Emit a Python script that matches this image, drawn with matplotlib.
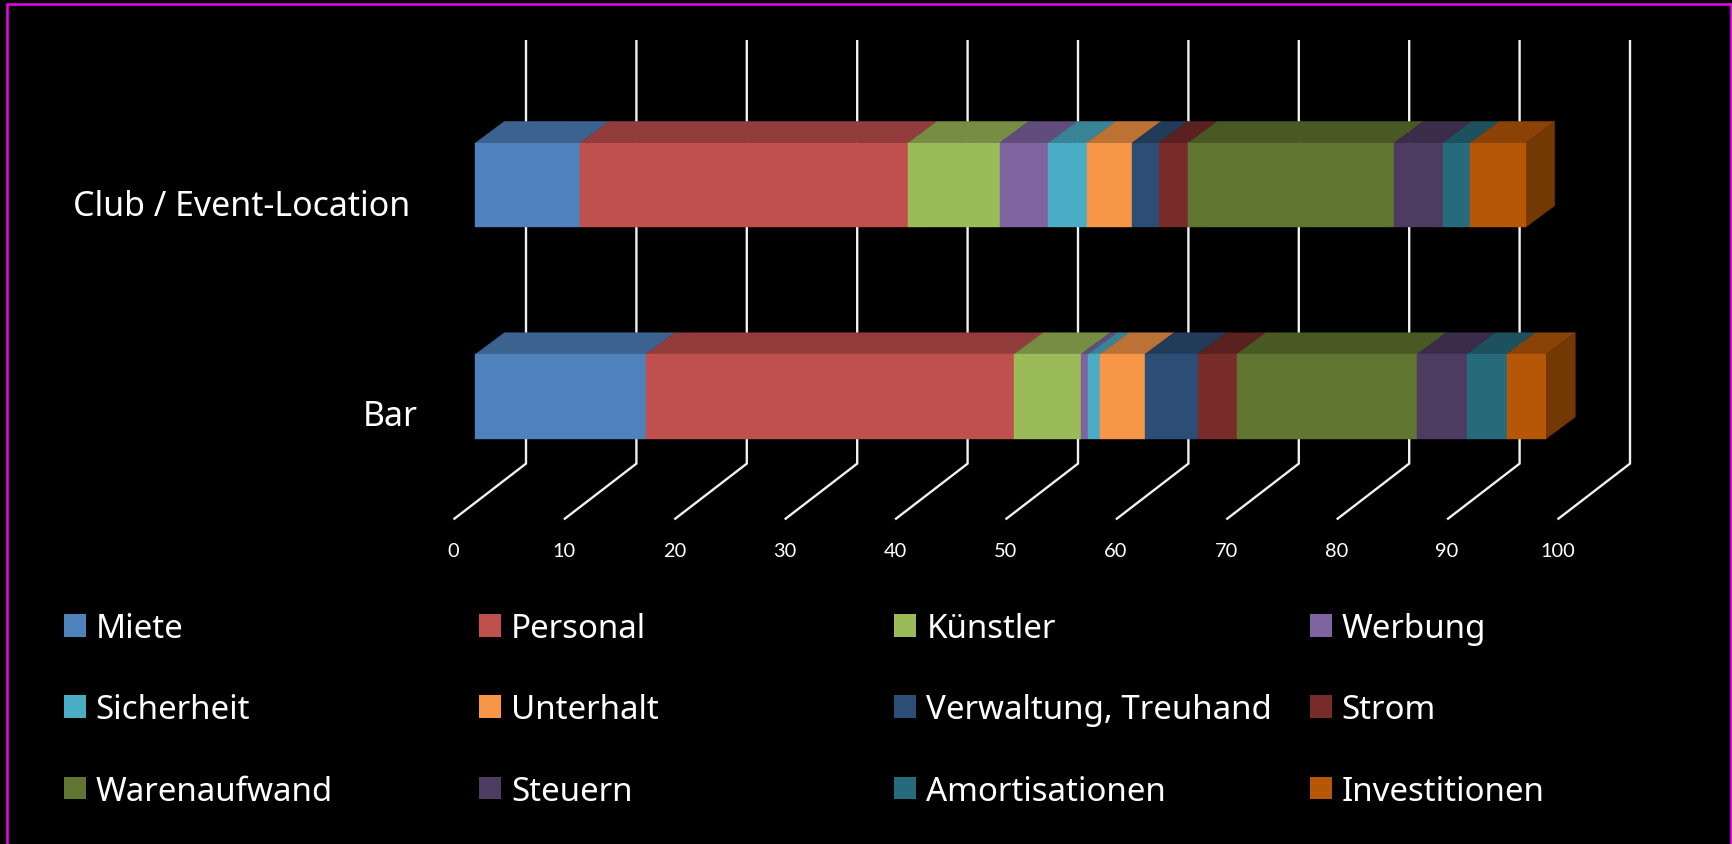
import matplotlib
matplotlib.use("Agg")
import matplotlib.pyplot as plt
from matplotlib.patches import Patch, Polygon, Rectangle
from matplotlib.colors import to_rgb

categories = ["Bar", "Club / Event-Location"]
series = ["Miete", "Personal", "Künstler", "Werbung", "Sicherheit", "Unterhalt",
          "Verwaltung, Treuhand", "Strom", "Warenaufwand", "Steuern",
          "Amortisationen", "Investitionen"]
bar_values = [15.44, 33.36, 6.06, 0.64, 1.10, 4.05, 4.78, 3.52, 16.35, 4.50, 3.60, 3.60]
club_values = [9.50, 29.70, 8.30, 4.40, 3.48, 4.10, 2.42, 2.68, 18.65, 4.40, 2.50, 5.00]
colors = ["#4F81BD", "#C0504D", "#9BBB59", "#8064A2", "#4BACC6", "#F79646",
          "#2C4D75", "#772C2A", "#5F7530", "#4D3B62", "#276A7C", "#B65708"]
ticks = [0, 10, 20, 30, 40, 50, 60, 70, 80, 90, 100]

W, H = 1732, 845
plt.rcParams["font.family"] = ["Lato", "DejaVu Sans"]
TEXT_FONT = "Noto Sans"

PX_X = 11.04      # pixels per value unit
X0 = 475.4        # pixel of value 0 on the bar front
Y0 = 397.4        # pixel of the Bar front centre
PX_Y = 211.35     # pixels between categories


def yv(py):
    return (Y0 - py) / PX_Y


def xoff(px):
    return px / PX_X


def shade(c, f):
    return tuple(v * f for v in to_rgb(c))


fig = plt.figure(figsize=(W / 100, H / 100), dpi=100, facecolor="black")
ax = fig.add_axes([0, 0, 1, 1], facecolor="black")
ax.set_xlim(-X0 / PX_X, (W - X0) / PX_X)
ax.set_ylim(yv(H), yv(0))
ax.axis("off")

# gridlines: wall plus floor
for t in ticks:
    ax.plot([t + xoff(50.6), t + xoff(50.6), t - xoff(21.9)],
            [yv(41.0), yv(464.6), yv(520.4)],
            color="#f0f0f0", lw=1.7, zorder=1, solid_joinstyle="miter", solid_capstyle="butt")
    ax.text(t - xoff(21.9), yv(551.5), str(t), color="white", fontsize=14.4,
            ha="center", va="center", zorder=5)

bar_h = 84.3 / PX_Y
dx = xoff(29)
dy = 21.5 / PX_Y

for row, vals in enumerate([bar_values, club_values]):
    left = 0.0
    top = row + bar_h / 2
    bottom = row - bar_h / 2
    for name, v, c in zip(series, vals, colors):
        ax.barh(row, v, height=bar_h, left=left, color=c, edgecolor=c, linewidth=0.3, zorder=4)
        ax.add_patch(Polygon([(left, top), (left + v, top), (left + v + dx, top + dy), (left + dx, top + dy)],
                             closed=True, facecolor=shade(c, 0.76), edgecolor=shade(c, 0.76),
                             linewidth=0.3, zorder=3))
        left += v
    c = colors[-1]
    ax.add_patch(Polygon([(left, bottom), (left + dx, bottom + dy), (left + dx, top + dy), (left, top)],
                         closed=True, facecolor=shade(c, 0.64), edgecolor=shade(c, 0.64),
                         linewidth=0.3, zorder=3))

# category labels
for name, rx, py in zip(categories, [417.5, 410], [417, 207]):
    ax.text(xoff(rx - X0), yv(py), name, color="white", fontsize=24.4, family=TEXT_FONT,
            ha="right", va="center", zorder=5)

# legend: four equally spaced columns
handles = [Patch(facecolor=c, edgecolor="none") for c in colors]
FS = 23.8
for col in range(4):
    idx = [col, col + 4, col + 8]
    leg = ax.legend([handles[i] for i in idx], [series[i] for i in idx],
                    loc="upper left", bbox_to_anchor=((63.8 + 415.3 * col) / W, 1 - 613 / H),
                    bbox_transform=fig.transFigure, frameon=False, prop={"family": TEXT_FONT, "size": FS},
                    labelcolor="white", borderpad=0, borderaxespad=0,
                    handlelength=0.667, handleheight=0.667, handletextpad=0.30, labelspacing=1.46)
    if col < 3:
        ax.add_artist(leg)

# outer frame
fig.add_artist(Rectangle((7 / W, -0.02), (1731 - 7) / W, 1.02 - 5.2 / H, transform=fig.transFigure,
                         fill=False, edgecolor="#f000f0", linewidth=1.8))

fig.savefig("out.png", dpi=100, facecolor="black")
